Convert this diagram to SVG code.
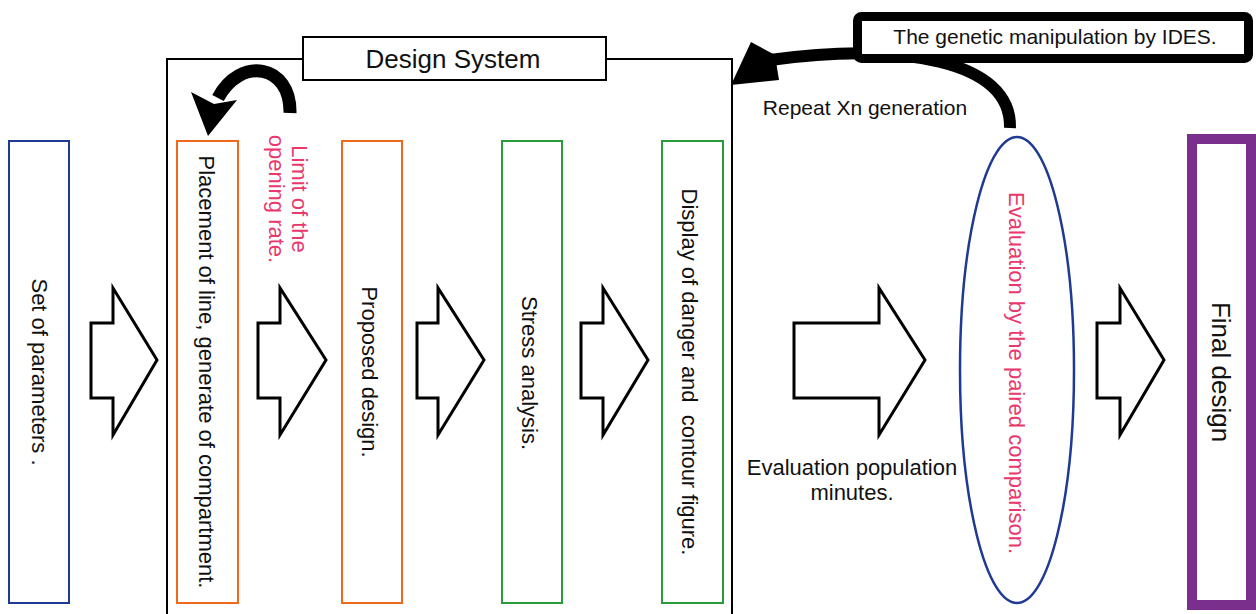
<svg xmlns="http://www.w3.org/2000/svg" width="1256" height="614" viewBox="0 0 1256 614">
<style>
text{font-family:"Liberation Sans",Arial,sans-serif;fill:#111}
.v{font-size:22px;text-anchor:middle}
.pink{fill:#e8386d}
.box{fill:#fff;stroke-width:2}
.or{stroke:#ee6a1a}
.gr{stroke:#2a9a3a}
.blk{fill:#fff;stroke:#000;stroke-width:3;stroke-linejoin:miter}
</style>
<rect width="1256" height="614" fill="#fff"/>
<g id="design-system">
<rect x="167" y="59" width="565" height="600" fill="none" stroke="#000" stroke-width="2"/>
<rect x="303" y="37" width="303" height="43" fill="#fff" stroke="#000" stroke-width="2"/>
<text x="453" y="68" font-size="26" text-anchor="middle">Design System</text>
</g>
<g id="set-params">
<rect class="box" x="9" y="141" width="60" height="462" stroke="#1f3a93"/>
<text class="v" transform="translate(32,372) rotate(90)">Set of parameters .</text>
</g>
<g id="placement">
<rect class="box or" x="177" y="141" width="61" height="462"/>
<text class="v" transform="translate(199,372) rotate(90)">Placement of line, generate of compartment.</text>
</g>
<g id="limit-label">
<text class="v pink" transform="translate(292,199) rotate(90)"><tspan x="0" y="0">Limit of the</tspan><tspan x="0" y="23">opening rate.</tspan></text>
</g>
<g id="proposed">
<rect class="box or" x="342" y="141" width="60" height="462"/>
<text class="v" transform="translate(362,372) rotate(90)">Proposed design.</text>
</g>
<g id="stress">
<rect class="box gr" x="502" y="141" width="60" height="462"/>
<text class="v" transform="translate(522,373) rotate(90)">Stress analysis.</text>
</g>
<g id="display">
<rect class="box gr" x="662" y="141" width="61" height="462"/>
<text class="v" transform="translate(682,372) rotate(90)" xml:space="preserve">Display of danger and  contour figure.</text>
</g>
<g id="evaluation">
<ellipse cx="1017" cy="370" rx="57" ry="233" fill="#fff" stroke="#1f3a93" stroke-width="2.5"/>
<text class="v pink" transform="translate(1009,373) rotate(90)">Evaluation by the paired comparison.</text>
</g>
<g id="final">
<rect x="1192" y="139" width="59" height="466" fill="#fff" stroke="#7b2f8c" stroke-width="10"/>
<text font-size="26" text-anchor="middle" transform="translate(1212,372) rotate(90)">Final design</text>
</g>
<g id="connectors">
<polygon class="blk" points="91,323 113,323 113,288 157,360 113,435 113,398 91,398"/>
<polygon class="blk" points="258,323 280,323 280,288 326,360 280,435 280,398 258,398"/>
<polygon class="blk" points="417,323 438,323 438,288 484,360 438,435 438,398 417,398"/>
<polygon class="blk" points="581,323 603,323 603,288 648,360 603,435 603,398 581,398"/>
<polygon class="blk" points="794,323 879,323 879,288 925,360 879,435 879,398 794,398"/>
<polygon class="blk" points="1097,323 1120,323 1120,288 1164,360 1120,435 1120,398 1097,398"/>
<path d="M290 113 C291 64 240 56 218 98" fill="none" stroke="#000" stroke-width="13"/>
<polygon points="191,92 214,104 237,100 208,136" fill="#000"/>
<path d="M1010 128 C1012 60 900 42 770 60" fill="none" stroke="#000" stroke-width="12"/>
<polygon points="751,42 775,55 779,80 731,85" fill="#000"/>
<text x="865" y="115" font-size="21" text-anchor="middle">Repeat Xn generation</text>
<text x="852" y="475" font-size="22" text-anchor="middle">Evaluation population</text>
<text x="852" y="500" font-size="22" text-anchor="middle">minutes.</text>
</g>
<g id="genetic-label">
<rect x="857.5" y="16.5" width="391" height="42" rx="4" fill="#fff" stroke="#000" stroke-width="9"/>
<text x="1055" y="44" font-size="21" text-anchor="middle">The genetic manipulation by IDES.</text>
</g>
</svg>
